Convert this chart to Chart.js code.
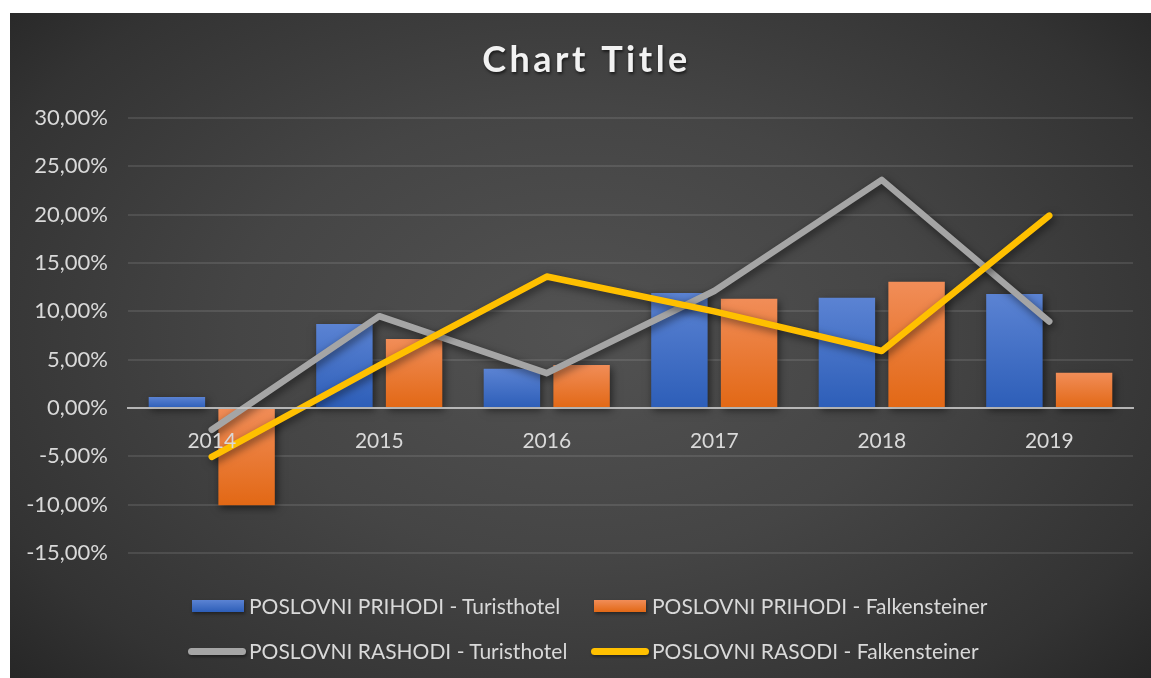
<!DOCTYPE html>
<html>
<head>
<meta charset="utf-8">
<script src="https://cdn.jsdelivr.net/npm/chart.js@4/dist/chart.umd.min.js"></script>
<style>
  html, body { margin: 0; padding: 0; background: #fff; }
  #wrap {
    position: absolute; left: 10px; top: 13px; width: 1141px; height: 665px;
    background: radial-gradient(ellipse 75% 85% at 50% 48%, #525252 0%, #454545 40%, #333333 75%, #1f1f1f 100%);
    overflow: hidden;
  }
  #wrap canvas { position: absolute; left: 0; top: 0; }
  .mark { position: absolute; box-shadow: 1px 2px 3px rgba(0,0,0,0.4); }
  .txt {
    position: absolute; transform: translateY(-50%);
    font-family: Lato, "Open Sans", sans-serif; font-size: 21px; color: #d9d9d9; white-space: nowrap;
  }
</style>
</head>
<body>
<div id="wrap">
  <canvas id="mainChart" width="1141" height="665"></canvas>
  <div id="legend"></div>
</div>
<script>
const YEARS = ["2014", "2015", "2016", "2017", "2018", "2019"];
const PRIHODI_TURISTHOTEL = [1.15, 8.7, 4.05, 11.9, 11.4, 11.8];
const PRIHODI_FALKENSTEINER = [-10.05, 7.15, 4.45, 11.3, 13.05, 3.65];
const RASHODI_TURISTHOTEL = [-2.25, 9.5, 3.6, 12.1, 23.6, 8.95];
const RASODI_FALKENSTEINER = [-5.05, 4.4, 13.6, 10.0, 5.9, 19.9];
const Y_MIN = -15, Y_MAX = 30, Y_STEP = 5;

const LABEL_COLOR = "#d9d9d9";
const FONT = "Lato, 'Open Sans', sans-serif";

function barGradient(top, bottom) {
  return ctx => {
    const chart = ctx.chart;
    if (!chart.chartArea || ctx.dataIndex === undefined) return bottom;
    const y = chart.scales.y;
    const v = ctx.dataset.data[ctx.dataIndex];
    const p0 = y.getPixelForValue(0), p1 = y.getPixelForValue(v);
    const g = chart.ctx.createLinearGradient(0, Math.min(p0, p1), 0, Math.max(p0, p1) || 1);
    g.addColorStop(0, top);
    g.addColorStop(1, bottom);
    return g;
  };
}

// soft drop shadow under bars and lines
const shadowPlugin = {
  id: 'shadow',
  beforeDatasetDraw(chart) {
    const c = chart.ctx;
    c.save();
    c.shadowColor = 'rgba(0,0,0,0.55)';
    c.shadowBlur = 8;
    c.shadowOffsetX = 2;
    c.shadowOffsetY = 3;
  },
  afterDatasetDraw(chart) {
    chart.ctx.restore();
  }
};

const titlePlugin = {
  id: 'bigTitle',
  afterDraw(chart) {
    const c = chart.ctx;
    c.save();
    c.font = "bold 36px " + FONT;
    if ('letterSpacing' in c) c.letterSpacing = '3.5px';
    c.textAlign = 'center';
    c.textBaseline = 'middle';
    c.shadowColor = 'rgba(0,0,0,0.6)';
    c.shadowBlur = 3;
    c.shadowOffsetX = 1;
    c.shadowOffsetY = 2;
    c.fillStyle = '#f2f2f2';
    c.fillText('Chart Title', chart.width / 2 + 6, 47);
    c.restore();
  }
};

const ctx = document.getElementById('mainChart').getContext('2d');
const mainChart = new Chart(ctx, {
  type: 'bar',
  data: {
    labels: YEARS,
    datasets: [
      {
        type: 'line',
        label: 'POSLOVNI RASODI - Falkensteiner',
        data: RASODI_FALKENSTEINER,
        borderColor: '#ffc000',
        borderWidth: 6.5,
        borderCapStyle: 'round',
        borderJoinStyle: 'round',
        pointRadius: 0,
        tension: 0,
        order: 0
      },
      {
        type: 'line',
        label: 'POSLOVNI RASHODI - Turisthotel',
        data: RASHODI_TURISTHOTEL,
        borderColor: '#a5a5a5',
        borderWidth: 6.5,
        borderCapStyle: 'round',
        borderJoinStyle: 'round',
        pointRadius: 0,
        tension: 0,
        order: 1
      },
      {
        label: 'POSLOVNI PRIHODI - Turisthotel',
        data: PRIHODI_TURISTHOTEL,
        backgroundColor: barGradient('#5b83d3', '#2d5eb8'),
        categoryPercentage: 0.832,
        barPercentage: 0.81,
        order: 2
      },
      {
        label: 'POSLOVNI PRIHODI - Falkensteiner',
        data: PRIHODI_FALKENSTEINER,
        backgroundColor: barGradient('#f18d58', '#e26815'),
        categoryPercentage: 0.832,
        barPercentage: 0.81,
        order: 2
      }
    ]
  },
  options: {
    responsive: false,
    animation: false,
    layout: { padding: { left: 17, right: 18, top: 105, bottom: 125 } },
    plugins: {
      legend: { display: false },
      title: { display: false },
      tooltip: { enabled: false }
    },
    scales: {
      x: {
        type: 'category',
        position: { y: 0 },
        grid: { display: false },
        border: { color: 'rgba(200,200,200,0.85)', width: 2, z: 1 },
        ticks: { color: LABEL_COLOR, font: { family: FONT, size: 21 }, padding: 13, z: 1 }
      },
      y: {
        min: Y_MIN,
        max: Y_MAX,
        afterFit: scale => { scale.width = 101; },
        border: { display: false },
        grid: { color: 'rgba(255,255,255,0.10)', lineWidth: 2, drawTicks: false },
        ticks: {
          stepSize: Y_STEP,
          color: LABEL_COLOR,
          font: { family: FONT, size: 22 },
          padding: 20,
          callback: v => v.toFixed(2).replace('.', ',') + '%'
        }
      }
    }
  },
  plugins: [shadowPlugin, titlePlugin]
});

// two-row legend laid out as in the original (container coordinates)
const LEGEND_ITEMS = [
  { text: 'POSLOVNI PRIHODI - Turisthotel', kind: 'box', colors: ['#5b83d3', '#2d5eb8'], mx: 182, my: 593, tx: 239, ty: 592 },
  { text: 'POSLOVNI PRIHODI - Falkensteiner', kind: 'box', colors: ['#f18d58', '#e26815'], mx: 584, my: 593, tx: 642, ty: 592 },
  { text: 'POSLOVNI RASHODI - Turisthotel', kind: 'line', colors: ['#a5a5a5'], mx: 178, my: 638, tx: 239, ty: 637 },
  { text: 'POSLOVNI RASODI - Falkensteiner', kind: 'line', colors: ['#ffc000'], mx: 581, my: 638, tx: 642, ty: 637 }
];
const legendEl = document.getElementById('legend');
LEGEND_ITEMS.forEach(it => {
  const m = document.createElement('div');
  m.className = 'mark';
  if (it.kind === 'box') {
    m.style.cssText = `left:${it.mx}px;top:${it.my - 6}px;width:52px;height:12px;background:linear-gradient(${it.colors[0]},${it.colors[1]})`;
  } else {
    m.style.cssText = `left:${it.mx}px;top:${it.my - 3.5}px;width:58px;height:7px;border-radius:3.5px;background:${it.colors[0]}`;
  }
  const t = document.createElement('div');
  t.className = 'txt';
  t.style.left = it.tx + 'px';
  t.style.top = it.ty + 'px';
  t.textContent = it.text;
  legendEl.appendChild(m);
  legendEl.appendChild(t);
});
</script>
</body>
</html>
